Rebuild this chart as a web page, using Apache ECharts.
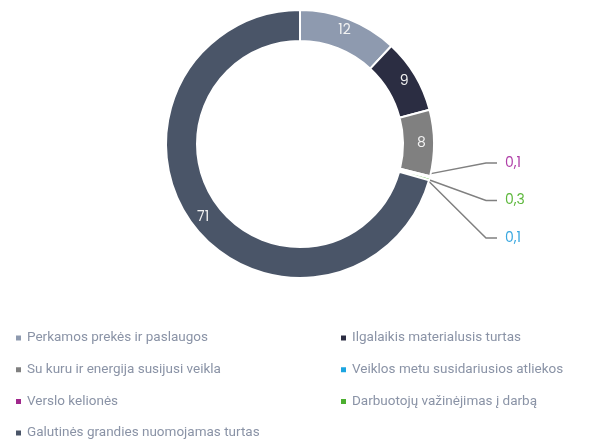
<!DOCTYPE html>
<html>
<head>
<meta charset="utf-8">
<script src="https://cdn.jsdelivr.net/npm/echarts@6/dist/echarts.min.js"></script>
<style>
html, body { margin: 0; padding: 0; background: #fff; }
#chart { width: 601px; height: 441px; }
</style>
</head>
<body>
<div id="chart"></div>
<script>
// kategorijos ir reikšmės (%)
var names = [
	"Perkamos prekės ir paslaugos",
	"Ilgalaikis materialusis turtas",
	"Su kuru ir energija susijusi veikla",
	"Veiklos metu susidariusios atliekos",
	"Verslo kelionės",
	"Darbuotojų važinėjimas į darbą",
	"Galutinės grandies nuomojamas turtas"
];
var values = [12, 9, 8, 0.1, 0.1, 0.3, 71];
var colors = ["#8E9AAF", "#2B2D42", "#808080", "#1CA5E0", "#A0288C", "#4CAF30", "#4A5568"];
var labelColors = ["#F2F2F2", "#F2F2F2", "#F2F2F2", "#3AA8E0", "#B040A8", "#5DB83C", "#F2F2F2"];

var leftLegend = [names[0], names[2], names[4], names[6]];
var rightLegend = [names[1], names[3], names[5]];

// mažų reikšmių etikečių eilė (iš viršaus į apačią)
var smallSlot = { 4: 0, 5: 1, 3: 2 };

var CX = 300, CY = 144;

function init () {
	var cc = echarts.init(document.getElementById("chart"));

	var data = [];
	for (var i = 0; i < names.length; i++) {
		var small = values[i] < 1;
		data.push({
			name: names[i],
			value: values[i],
			itemStyle: { color: colors[i] },
			label: {
				position: small ? "outside" : "inside",
				color: labelColors[i]
			},
			labelLine: { show: small }
		});
	}

	var legendBase = {
		orient: "vertical",
		top: 331,
		height: 140,
		padding: 0,
		itemWidth: 7,
		itemHeight: 7,
		itemGap: 17.7,
		icon: "rect",
		textStyle: {
			color: "#8A93A6",
			fontSize: 13.5,
			lineHeight: 14,
			fontFamily: "Roboto"
		}
	};

	var op = {
		animation: false,
		legend: [
			Object.assign({}, legendBase, { left: 14, data: leftLegend }),
			Object.assign({}, legendBase, { left: 339, data: rightLegend })
		],
		series: [{
			type: "pie",
			center: [CX, CY],
			radius: [103, 134],
			startAngle: 90,
			clockwise: true,
			avoidLabelOverlap: false,
			itemStyle: { borderColor: "#fff", borderWidth: 2 },
			label: {
				fontFamily: "Poppins, Open Sans, sans-serif",
				fontSize: 14,
				formatter: function (p) { return String(p.value).replace(".", ","); }
			},
			labelLine: {
				length: 60,
				length2: 12,
				lineStyle: { color: "#808080", width: 1.5 }
			},
			labelLayout: function (p) {
				var slot = smallSlot[p.dataIndex];
				if (slot === undefined || !p.labelLinePoints) return {};
				var y = CY + 19 + slot * 37.5;
				var start = p.labelLinePoints[0];
				return {
					x: CX + 205,
					y: y,
					align: "left",
					verticalAlign: "middle",
					labelLinePoints: [[start[0] - 8, start[1] - 2], [CX + 186, y], [CX + 197, y]]
				};
			},
			data: data
		}]
	};

	cc.setOption(op);
}
init();
</script>
</body>
</html>
